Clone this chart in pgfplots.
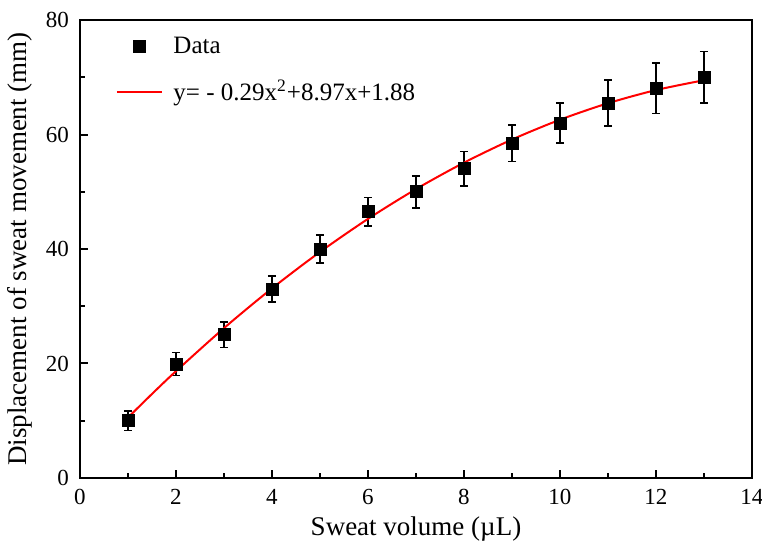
\documentclass[border=0pt]{standalone}
\usepackage{pgfplots}
\pgfplotsset{compat=1.18}
\usepackage{fontspec}
\setmainfont{Liberation Serif}
\pgfplotsset{longline/.style={legend image code/.code={\draw[##1] (-0.1cm,0cm) -- (0.7cm,0cm);}}}

\begin{document}
\begin{tikzpicture}
\begin{axis}[
    name=ax,
    width=336pt, height=229pt, scale only axis,
    xmin=0, xmax=14, ymin=0, ymax=80,
    xtick={0,2,...,14}, ytick={0,20,...,80},
    minor xtick={1,3,...,13}, minor ytick={10,30,...,70},
    tick align=inside, xtick pos=bottom, ytick pos=left,
    major tick length=4pt, minor tick length=2.5pt,
    every tick/.style={black, line width=1pt},
    axis line style={line width=1pt},
    /pgf/number format/assume math mode=true,
    ticklabel style={font=\rmfamily\fontsize{11.5}{13}\selectfont},
    xticklabel style={yshift=-2pt}, yticklabel style={xshift=-2pt},
    xlabel={Sweat volume (µL)}, ylabel={Displacement of sweat movement (mm)},
    label style={font=\rmfamily\fontsize{13.5}{15}\selectfont},
    xlabel style={yshift=1pt},
    ylabel style={at={(axis description cs:-0.089,0.5)}, anchor=center},
    legend cell align=left,
    legend style={at={(0.044,0.982)}, anchor=north west, draw=none, fill=none,
        font=\rmfamily\fontsize{12.5}{14}\selectfont, row sep=8pt, column sep=3pt},
]
\addplot[only marks, mark=square*, mark size=3pt, black,
    error bars/.cd, y dir=both, y explicit,
    error bar style={line width=0.8pt},
    error mark options={rotate=90, mark size=2pt, line width=0.8pt}]
coordinates {
    (1,10.0) +- (0,1.7)
    (2,19.9) +- (0,2.0)
    (3,25.0) +- (0,2.2)
    (4,33.0) +- (0,2.3)
    (5,40.0) +- (0,2.4)
    (6,46.5) +- (0,2.5)
    (7,50.0) +- (0,2.8)
    (8,54.0) +- (0,3.0)
    (9,58.5) +- (0,3.2)
    (10,62.0) +- (0,3.5)
    (11,65.5) +- (0,4.0)
    (12,68.1) +- (0,4.4)
    (13,70.0) +- (0,4.5)
};
\addlegendentry{Data}
\addplot[red, line width=1pt, smooth, no marks, longline]
coordinates {
    (1,10.56) (1.5,14.68) (2,18.66) (3,26.18) (4,33.12) (5,39.48)
    (6,45.26) (7,50.46) (8,55.08) (9,59.12) (10,62.58) (11,65.46)
    (12,67.76) (13,69.48)
};
\addlegendentry{y= - 0.29x\textsuperscript{2}+8.97x+1.88}
\end{axis}
\pgfresetboundingbox
\path (ax.south west) ++(-40pt,-33pt) coordinate (bl);
\path (ax.north east) ++(5pt,10pt) coordinate (tr);
\useasboundingbox (bl) rectangle (tr);
\end{tikzpicture}
\end{document}
